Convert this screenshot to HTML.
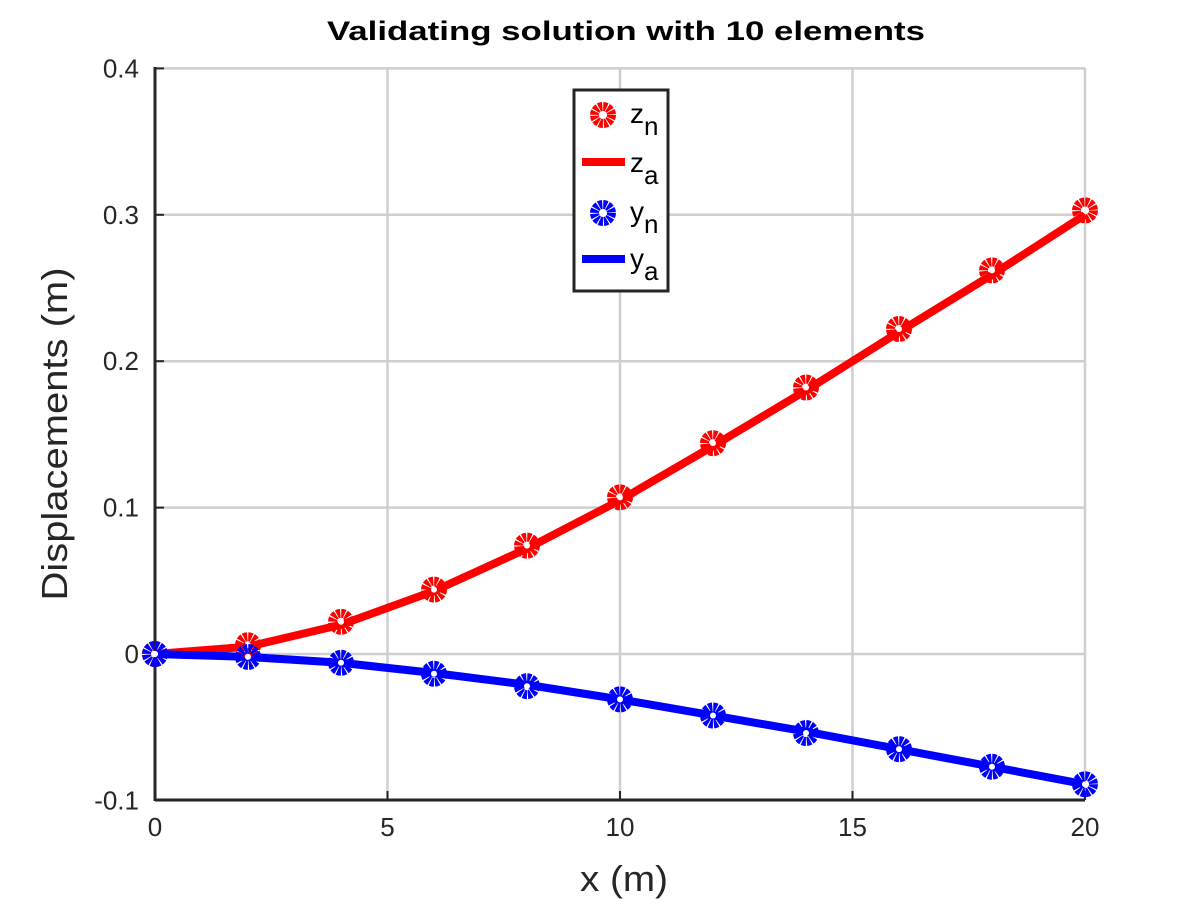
<!DOCTYPE html>
<html><head><meta charset="utf-8"><style>
body{margin:0;background:#fff}
svg text{font-family:"Liberation Sans",sans-serif}
</style></head><body>
<svg id="chart" width="1200" height="900" xmlns="http://www.w3.org/2000/svg">
<rect width="1200" height="900" fill="#fff"/>
<text x="626" y="40" text-anchor="middle" font-size="27" font-weight="bold" textLength="598" lengthAdjust="spacingAndGlyphs">Validating solution with 10 elements</text>
<g id="grid"></g>
<g id="axes"></g>
<g id="series"></g>
<text x="624" y="891" text-anchor="middle" font-size="36" fill="#262626" textLength="88" lengthAdjust="spacingAndGlyphs">x (m)</text>
<text transform="translate(67,434) rotate(-90)" text-anchor="middle" font-size="36" fill="#262626" textLength="333" lengthAdjust="spacingAndGlyphs">Displacements (m)</text>
<g>
<rect x="574" y="90" width="94" height="201" fill="#fff" stroke="#262626" stroke-width="3"/>
<g id="legmarks"></g>
<rect x="582" y="158" width="43" height="8" fill="#f00"/>
<rect x="582" y="255" width="43" height="8" fill="#00f"/>
<text x="630" y="123" font-size="28">z<tspan dy="12" font-size="26">n</tspan></text>
<text x="630" y="172" font-size="28">z<tspan dy="12" font-size="26">a</tspan></text>
<text x="630" y="221" font-size="28">y<tspan dy="12" font-size="26">n</tspan></text>
<text x="630" y="268" font-size="28">y<tspan dy="12" font-size="26">a</tspan></text>
</g>
</svg>
<script>
const xs=[0,2,4,6,8,10,12,14,16,18,20];
const zNum=[0,0.006,0.022,0.044,0.074,0.107,0.144,0.182,0.222,0.262,0.303];
const zAna=[0,0.005,0.020,0.043,0.072,0.105,0.142,0.180,0.220,0.259,0.300];
const yNum=[0,-0.002,-0.006,-0.0135,-0.022,-0.031,-0.042,-0.054,-0.065,-0.077,-0.089];
const yAna=[0,-0.002,-0.006,-0.013,-0.021,-0.031,-0.042,-0.053,-0.065,-0.077,-0.089];
const xTicks=[0,5,10,15,20];
const yTicks=[-0.1,0,0.1,0.2,0.3,0.4];
const yTickLabels=["-0.1","0","0.1","0.2","0.3","0.4"];
const NS="http://www.w3.org/2000/svg";
const X=v=>155+v*(1085-155)/20;
const Y=v=>654-v*1464;
function mk(tag,attrs,parent){const e=document.createElementNS(NS,tag);for(const k in attrs)e.setAttribute(k,attrs[k]);parent.appendChild(e);return e;}
const grid=document.getElementById('grid'),axes=document.getElementById('axes'),ser=document.getElementById('series');
xTicks.forEach(t=>{
 const g=mk('line',{x1:X(t),x2:X(t),y1:68,y2:800,stroke:'#cfcfcf','stroke-width':2.5},grid);
 
 
 const tk=mk('line',{x1:X(t),x2:X(t),y1:800,y2:791,stroke:'#262626','stroke-width':2},axes);
 
 
 const tx=mk('text',{x:X(t),y:836,'text-anchor':'middle','font-size':26,fill:'#262626'},axes);
 tx.textContent=t;
 
 
});
yTicks.forEach((t,i)=>{
 const g=mk('line',{x1:155,x2:1085,y1:Y(t),y2:Y(t),stroke:'#cfcfcf','stroke-width':2.5},grid);
 
 
 const tk=mk('line',{x1:155,x2:164,y1:Y(t),y2:Y(t),stroke:'#262626','stroke-width':2},axes);
 
 
 const tx=mk('text',{x:139,y:Y(t)+9,'text-anchor':'end','font-size':26,fill:'#262626'},axes);
 tx.textContent=yTickLabels[i];
 
 
});
const xa=mk('line',{x1:155,x2:1085,y1:800,y2:800,stroke:'#262626','stroke-width':3},axes);


const ya=mk('line',{x1:155,x2:155,y1:67,y2:801,stroke:'#262626','stroke-width':3},axes);


function line(vals,color,name){
 const p=mk('polyline',{points:xs.map((x,i)=>X(x)+','+Y(vals[i])).join(' '),fill:'none',stroke:color,'stroke-width':8,'stroke-linejoin':'round'},ser);
 
 
}
function marker(cx,cy,color,parent,name){
 const c=mk('circle',{cx:cx,cy:cy,r:8.5,fill:'none',stroke:color,'stroke-width':9,'stroke-dasharray':'3.5 0.95'},parent);
 
 
 mk('circle',{cx:cx,cy:cy,r:3,fill:'#fff'},parent);
}
line(zAna,'#f00','z-analytic-line');
line(yAna,'#00f','y-analytic-line');
xs.forEach((x,i)=>marker(X(x),Y(zNum[i]),'#f00',ser,'z-numeric-point'));
xs.forEach((x,i)=>marker(X(x),Y(yNum[i]),'#00f',ser,'y-numeric-point'));
const lm=document.getElementById('legmarks');
marker(603,115,'#f00',lm,'legend-zn-marker');
marker(603,213,'#00f',lm,'legend-yn-marker');
</script>
</body></html>
